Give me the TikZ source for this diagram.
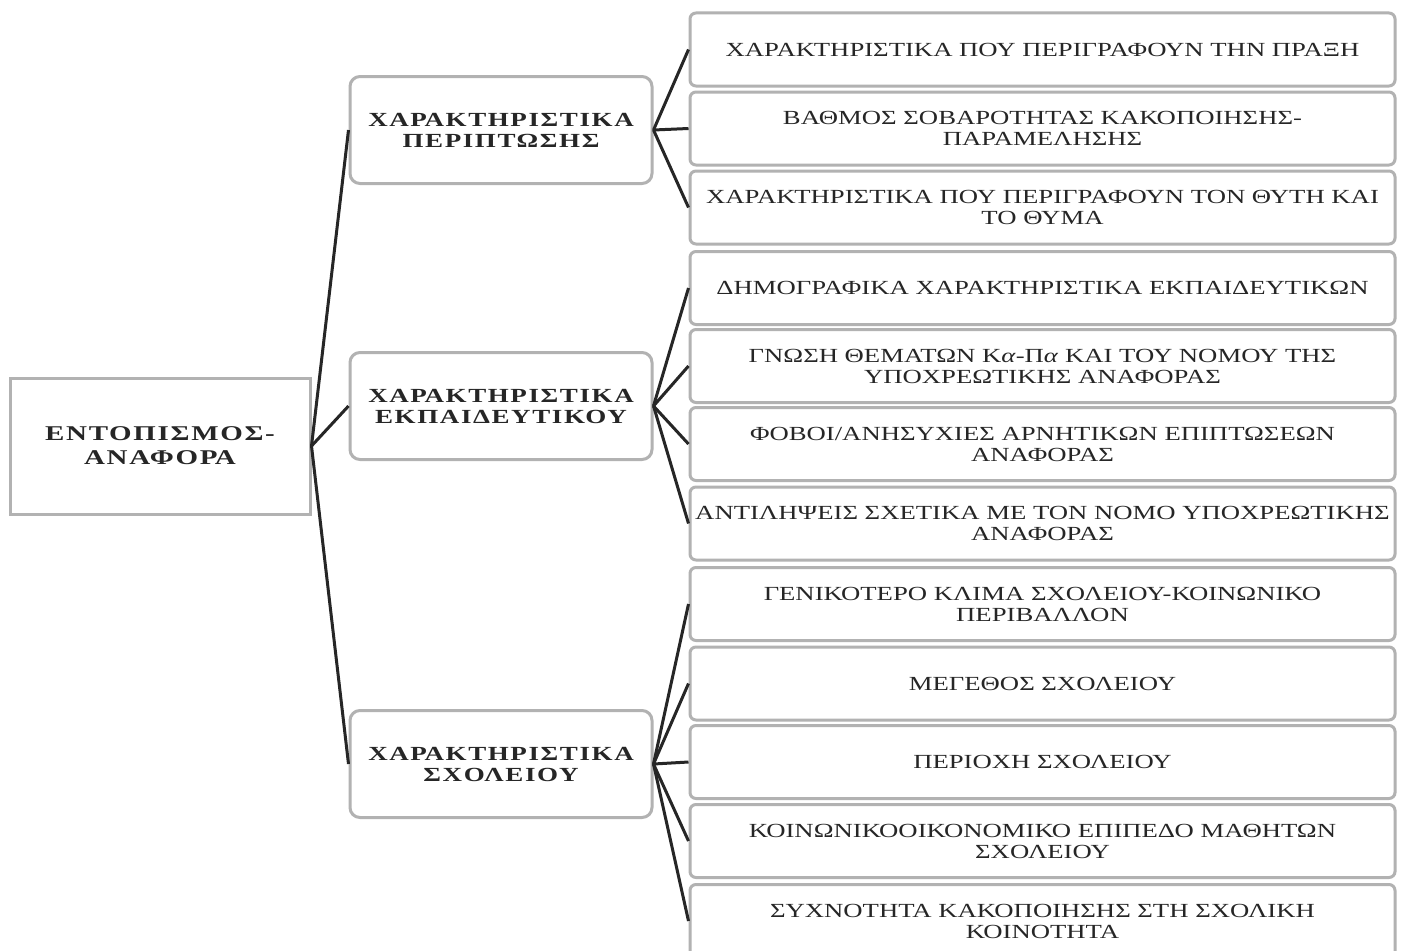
\documentclass[tikz,border=0pt]{standalone}
\usepackage{fontspec}
\setmainfont{Liberation Serif}
\newfontfamily\leaffont[FakeStretch=1.335]{Liberation Serif}
\newfontfamily\midfont[FakeStretch=1.35,LetterSpace=8,BoldFont={Liberation Serif Bold}]{Liberation Serif}
\newfontfamily\rootfont[FakeStretch=1.38,LetterSpace=8,BoldFont={Liberation Serif Bold}]{Liberation Serif}
\tikzset{
  box/.style={draw=gray!60, line width=3pt, fill=white, inner sep=0pt, align=center, text=black!85},
  rootbox/.style={box, minimum width=300pt, minimum height=136pt, font=\rootfont\bfseries\fontsize{21}{24}\selectfont},
  midbox/.style={box, rounded corners=10pt, minimum width=302pt, minimum height=107pt, font=\midfont\bfseries\fontsize{20}{21}\selectfont},
  leafbox/.style={box, rounded corners=6pt, minimum width=705pt, minimum height=73pt, font=\leaffont\fontsize{20}{21}\selectfont},
  link/.style={draw=black!85, line width=3pt}
}
\begin{document}
\begin{tikzpicture}[x=1pt,y=-1pt]
\useasboundingbox[fill=white] (0,0) rectangle (1404,950);
\node[rootbox] (root) at (160,446) {ΕΝΤΟΠΙΣΜΟΣ-\\ΑΝΑΦΟΡΑ};
\node[midbox] (m1) at (501,130) {ΧΑΡΑΚΤΗΡΙΣΤΙΚΑ\\ΠΕΡΙΠΤΩΣΗΣ};
\node[midbox] (m2) at (501,406) {ΧΑΡΑΚΤΗΡΙΣΤΙΚΑ\\ΕΚΠΑΙΔΕΥΤΙΚΟΥ};
\node[midbox] (m3) at (501,764) {ΧΑΡΑΚΤΗΡΙΣΤΙΚΑ\\ΣΧΟΛΕΙΟΥ};
\node[leafbox] (l1) at (1042.5,49.5) {ΧΑΡΑΚΤΗΡΙΣΤΙΚΑ ΠΟΥ ΠΕΡΙΓΡΑΦΟΥΝ ΤΗΝ ΠΡΑΞΗ};
\node[leafbox] (l2) at (1042.5,128.5) {ΒΑΘΜΟΣ ΣΟΒΑΡΟΤΗΤΑΣ ΚΑΚΟΠΟΙΗΣΗΣ-\\ΠΑΡΑΜΕΛΗΣΗΣ};
\node[leafbox] (l3) at (1042.5,207.5) {ΧΑΡΑΚΤΗΡΙΣΤΙΚΑ ΠΟΥ ΠΕΡΙΓΡΑΦΟΥΝ ΤΟΝ ΘΥΤΗ ΚΑΙ\\ΤΟ ΘΥΜΑ};
\node[leafbox] (l4) at (1042.5,288) {ΔΗΜΟΓΡΑΦΙΚΑ ΧΑΡΑΚΤΗΡΙΣΤΙΚΑ ΕΚΠΑΙΔΕΥΤΙΚΩΝ};
\node[leafbox] (l5) at (1042.5,366) {ΓΝΩΣΗ ΘΕΜΑΤΩΝ Κ\textit{α}-Π\textit{α} ΚΑΙ ΤΟΥ ΝΟΜΟΥ ΤΗΣ\\ΥΠΟΧΡΕΩΤΙΚΗΣ ΑΝΑΦΟΡΑΣ};
\node[leafbox] (l6) at (1042.5,444) {ΦΟΒΟΙ/ΑΝΗΣΥΧΙΕΣ ΑΡΝΗΤΙΚΩΝ ΕΠΙΠΤΩΣΕΩΝ\\ΑΝΑΦΟΡΑΣ};
\node[leafbox] (l7) at (1042.5,523.5) {ΑΝΤΙΛΗΨΕΙΣ ΣΧΕΤΙΚΑ ΜΕ ΤΟΝ ΝΟΜΟ ΥΠΟΧΡΕΩΤΙΚΗΣ\\ΑΝΑΦΟΡΑΣ};
\node[leafbox] (l8) at (1042.5,604) {ΓΕΝΙΚΟΤΕΡΟ ΚΛΙΜΑ ΣΧΟΛΕΙΟΥ-ΚΟΙΝΩΝΙΚΟ\\ΠΕΡΙΒΑΛΛΟΝ};
\node[leafbox] (l9) at (1042.5,683.5) {ΜΕΓΕΘΟΣ ΣΧΟΛΕΙΟΥ};
\node[leafbox] (l10) at (1042.5,762) {ΠΕΡΙΟΧΗ ΣΧΟΛΕΙΟΥ};
\node[leafbox] (l11) at (1042.5,841) {ΚΟΙΝΩΝΙΚΟΟΙΚΟΝΟΜΙΚΟ ΕΠΙΠΕΔΟ ΜΑΘΗΤΩΝ\\ΣΧΟΛΕΙΟΥ};
\node[leafbox] (l12) at (1042.5,921) {ΣΥΧΝΟΤΗΤΑ ΚΑΚΟΠΟΙΗΣΗΣ ΣΤΗ ΣΧΟΛΙΚΗ\\ΚΟΙΝΟΤΗΤΑ};
\foreach \m in {m1,m2,m3} \draw[link] (root.east) -- (\m.west);
\foreach \l in {l1,l2,l3} \draw[link] (m1.east) -- (\l.west);
\foreach \l in {l4,l5,l6,l7} \draw[link] (m2.east) -- (\l.west);
\foreach \l in {l8,l9,l10,l11,l12} \draw[link] (m3.east) -- (\l.west);
\end{tikzpicture}
\end{document}
